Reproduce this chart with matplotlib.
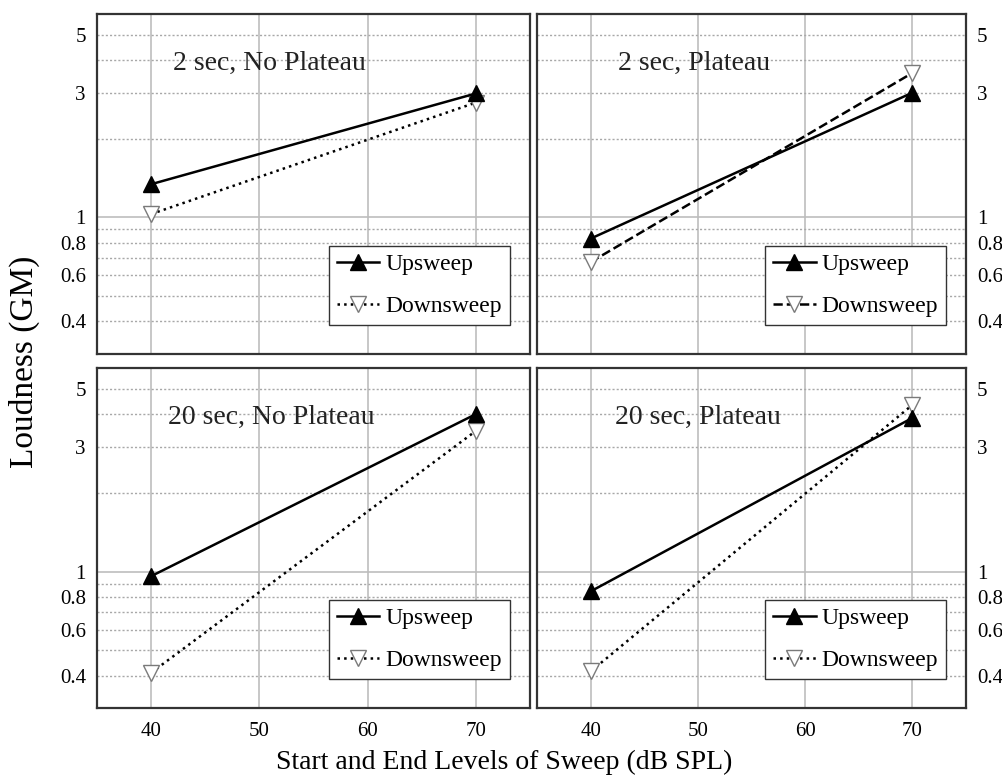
import matplotlib.pyplot as plt
from matplotlib.ticker import FixedLocator, NullFormatter

plt.rcParams['font.family'] = ['Liberation Serif', 'DejaVu Serif']

# Start/end levels of the sweep (dB SPL)
levels = [40, 70]

# Loudness (GM) for each condition
titles = ["2 sec, No Plateau", "2 sec, Plateau", "20 sec, No Plateau", "20 sec, Plateau"]
upsweep = [
    [1.34, 2.98],
    [0.83, 3.00],
    [0.96, 4.00],
    [0.84, 3.87],
]
downsweep = [
    [1.03, 2.75],
    [0.675, 3.57],
    [0.41, 3.45],
    [0.415, 4.34],
]
down_styles = [':', '--', ':', ':']

xticks = [40, 50, 60, 70]
ytick_vals = [0.4, 0.6, 0.8, 1, 3, 5]
ytick_labels = ["0.4", "0.6", "0.8", "1", "3", "5"]
ygrid_dotted = [0.4, 0.5, 0.6, 0.7, 0.8, 0.9, 2, 3, 4, 5]

fig = plt.figure(figsize=(10.02, 7.8), dpi=100)

# axes boxes in figure fractions [left, bottom, width, height]
boxes = [
    [0.0968, 0.546, 0.432, 0.436],
    [0.536, 0.546, 0.428, 0.436],
    [0.0968, 0.092, 0.432, 0.436],
    [0.536, 0.092, 0.428, 0.436],
]
title_x = [0.175, 0.189, 0.164, 0.182]

for i in range(4):
    ax = fig.add_axes(boxes[i])
    ax.set_yscale('log')
    ax.set_xlim(35, 75)
    ax.set_ylim(0.3, 6)

    # grid
    for v in xticks:
        ax.axvline(v, color='#bdbdbd', lw=1.2, zorder=0)
    for v in ygrid_dotted:
        ax.axhline(v, color='#a8a8a8', lw=1.0, ls=(0, (1.5, 1.5)), zorder=0)
    ax.axhline(1, color='#bdbdbd', lw=1.2, zorder=0)

    ax.plot(levels, downsweep[i], ls=down_styles[i], color='black', lw=1.8,
            marker='v', ms=12, mfc='white', mec='#7a7a7a', mew=1.0,
            label='Downsweep', zorder=3)
    ax.plot(levels, upsweep[i], ls='-', color='black', lw=1.8,
            marker='^', ms=12, mfc='black', mec='black',
            label='Upsweep', zorder=4)

    ax.text(title_x[i], 0.855, titles[i], transform=ax.transAxes,
            fontsize=20, ha='left', va='center', color='#222222')

    h, l = ax.get_legend_handles_labels()
    leg = ax.legend(h[::-1], l[::-1], loc='lower right',
                    bbox_to_anchor=(0.954, 0.085), borderaxespad=0,
                    fontsize=17, fancybox=False, framealpha=1,
                    edgecolor='#333333', handlelength=1.8,
                    handletextpad=0.25, borderpad=0.35, labelspacing=0.85)
    leg.get_frame().set_linewidth(1.0)

    ax.yaxis.set_major_locator(FixedLocator(ytick_vals))
    ax.yaxis.set_minor_locator(FixedLocator([]))
    ax.yaxis.set_minor_formatter(NullFormatter())
    ax.set_yticklabels(ytick_labels)
    ax.set_xticks(xticks)

    right = i in (1, 3)
    bottom = i in (2, 3)
    ax.tick_params(axis='y', length=0, labelsize=15, pad=8,
                   left=False, right=False,
                   labelleft=not right, labelright=right)
    ax.tick_params(axis='x', length=0, labelsize=15, pad=10,
                   labelbottom=bottom)
    for s in ax.spines.values():
        s.set_linewidth(1.6)
        s.set_color('#333333')

fig.text(0.024, 0.536, "Loudness (GM)", rotation=90, fontsize=24,
         ha='center', va='center')
fig.text(0.503, 0.022, "Start and End Levels of Sweep (dB SPL)",
         fontsize=20, ha='center', va='center')

fig.savefig("out.png", dpi=100)
